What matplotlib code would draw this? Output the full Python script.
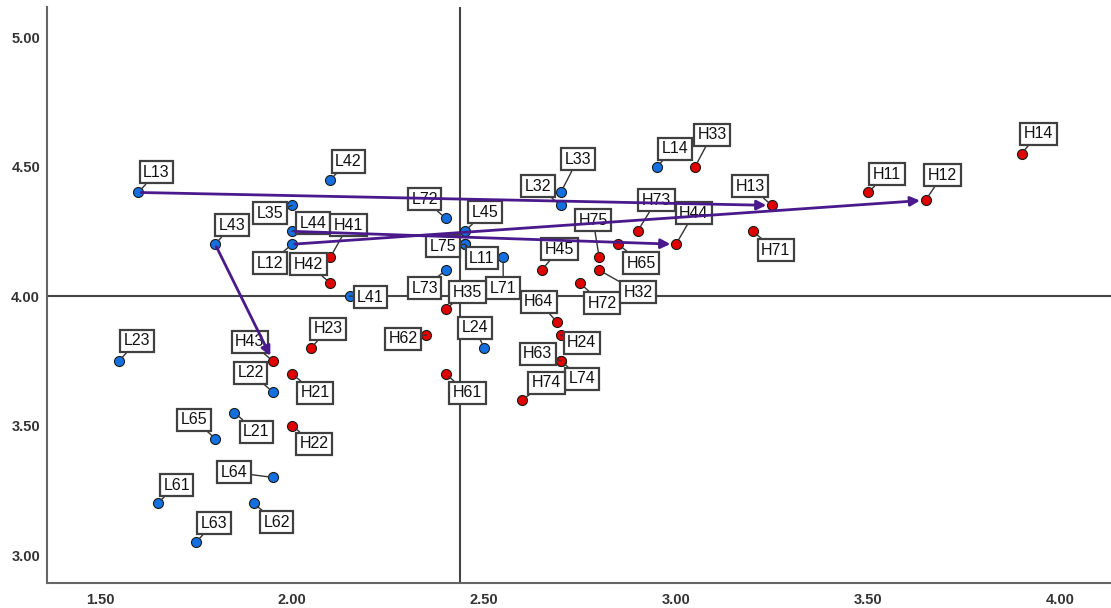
import matplotlib
matplotlib.use("Agg")
import matplotlib.pyplot as plt

# -- Data

# Low group (blue points)
l_names = ["L13", "L42", "L35", "L44", "L12", "L43", "L41", "L72", "L45", "L75", "L11",
           "L73", "L71", "L24", "L32", "L33", "L14", "L74", "L23", "L22", "L65", "L21",
           "L64", "L61", "L62", "L63"]
l_x = [1.60, 2.10, 2.00, 2.00, 2.00, 1.80, 2.15, 2.40, 2.45, 2.45, 2.45,
       2.40, 2.55, 2.50, 2.70, 2.70, 2.95, 2.70, 1.55, 1.95, 1.80, 1.85,
       1.95, 1.65, 1.90, 1.75]
l_y = [4.40, 4.45, 4.35, 4.25, 4.20, 4.20, 4.00, 4.30, 4.25, 4.20, 4.20,
       4.10, 4.15, 3.80, 4.35, 4.40, 4.50, 3.75, 3.75, 3.63, 3.45, 3.55,
       3.30, 3.20, 3.20, 3.05]

# High group (red points)
h_names = ["H41", "H42", "H23", "H43", "H21", "H22", "H35", "H62", "H61", "H45",
           "H64", "H24", "H63", "H74", "H72", "H75", "H32", "H65", "H73", "H44",
           "H33", "H13", "H71", "H11", "H12", "H14"]
h_x = [2.10, 2.10, 2.05, 1.95, 2.00, 2.00, 2.40, 2.35, 2.40, 2.65,
       2.69, 2.70, 2.70, 2.60, 2.75, 2.80, 2.80, 2.85, 2.90, 3.00,
       3.05, 3.25, 3.20, 3.50, 3.65, 3.90]
h_y = [4.15, 4.05, 3.80, 3.75, 3.70, 3.50, 3.95, 3.85, 3.70, 4.10,
       3.90, 3.85, 3.75, 3.60, 4.05, 4.15, 4.10, 4.20, 4.25, 4.20,
       4.50, 4.35, 4.25, 4.40, 4.37, 4.55]

# Shifts drawn as arrows (from L to H)
arrow_pairs = [("L13", "H13"), ("L44", "H44"), ("L12", "H12"), ("L43", "H43")]

# Reference lines
x_ref = 2.4375
y_ref = 4.00

x_ticks = [1.5, 2.0, 2.5, 3.0, 3.5, 4.0]
y_ticks = [3.0, 3.5, 4.0, 4.5, 5.0]

# -- Layout: label box offsets in pixels from the point (x right, y up)
label_offsets = {
    "L13": (18, 20), "L42": (18, 18), "L35": (-22, -8), "L44": (21, 8),
    "L12": (-22, -19), "L43": (17, 19), "L41": (21, -1), "L72": (-21, 19),
    "L45": (20, 19), "L75": (-22, -2), "L11": (17, -14), "L73": (-21, -18),
    "L71": (0, -31), "L24": (-9, 20), "L32": (-23, 19), "L33": (17, 33),
    "L14": (18, 18), "L74": (21, -18), "L23": (18, 20), "L22": (-22, 19),
    "L65": (-21, 19), "L21": (22, -19), "L64": (-39, 5), "L61": (19, 18),
    "L62": (23, -19), "L63": (18, 19),
    "H41": (18, 32), "H42": (-22, 19), "H23": (17, 19), "H43": (-23, 19),
    "H21": (23, -19), "H22": (22, -18), "H35": (22, 17), "H62": (-23, -4),
    "H61": (22, -19), "H45": (18, 21), "H64": (-18, 20), "H24": (21, -8),
    "H63": (-23, 7), "H74": (24, 17), "H72": (22, -20), "H75": (-6, 37),
    "H32": (39, -22), "H65": (23, -19), "H73": (19, 31), "H44": (18, 31),
    "H33": (17, 32), "H13": (-22, 19), "H71": (23, -19), "H11": (19, 18),
    "H12": (17, 25), "H14": (17, 20),
}

BLUE = "#1470e0"
RED = "#e00000"
ARROW = "#4a1a8c"

plt.rcParams["font.family"] = ["Liberation Sans", "DejaVu Sans"]

fig = plt.figure(figsize=(11.11, 6.08), dpi=100)
ax = fig.add_axes([0.0423, 0.041, 0.9577, 0.9475])

ax.set_xlim(1.362, 4.133)
ax.set_ylim(2.892, 5.116)

# Reference lines
ax.axvline(x_ref, color="#444444", lw=1.5, zorder=1)
ax.axhline(y_ref, color="#444444", lw=1.5, zorder=1)

# Points
ax.scatter(l_x, l_y, s=52, color=BLUE, edgecolor="#1a1a1a", linewidth=0.8, zorder=3)
ax.scatter(h_x, h_y, s=52, color=RED, edgecolor="#1a1a1a", linewidth=0.8, zorder=3)

# Labels with leader lines
points = {}
for names, xs, ys in ((l_names, l_x, l_y), (h_names, h_x, h_y)):
    for n, x, y in zip(names, xs, ys):
        points[n] = (x, y)
        dx, dy = label_offsets[n]
        ax.annotate(n, xy=(x, y), xytext=(dx, dy), textcoords="offset pixels",
                    ha="center", va="center", fontsize=11.5, color="#111111",
                    bbox=dict(boxstyle="square,pad=0.22", fc="white", ec="#404040", lw=1.6),
                    arrowprops=dict(arrowstyle="-", color="#333333", lw=1.0,
                                    shrinkA=0, shrinkB=3.5),
                    zorder=4)

# Arrows L -> H
for a, b in arrow_pairs:
    ax.annotate("", xy=points[b], xytext=points[a],
                arrowprops=dict(arrowstyle="-|>", color=ARROW, lw=2.0,
                                mutation_scale=14, shrinkA=2, shrinkB=4),
                zorder=6)

# Axes styling
for side in ("top", "right"):
    ax.spines[side].set_visible(False)
for side in ("left", "bottom"):
    ax.spines[side].set_color("#666666")
    ax.spines[side].set_linewidth(1.5)

ax.set_xticks(x_ticks)
ax.set_yticks(y_ticks)
ax.set_xticklabels([f"{t:.2f}" for t in x_ticks])
ax.set_yticklabels([f"{t:.2f}" for t in y_ticks])
ax.tick_params(axis="both", length=0, labelsize=10.5, labelcolor="#333333")
ax.tick_params(axis="x", pad=7)
ax.tick_params(axis="y", pad=5)
for lab in ax.get_xticklabels() + ax.get_yticklabels():
    lab.set_fontweight("bold")

fig.savefig("out.png", dpi=100)
